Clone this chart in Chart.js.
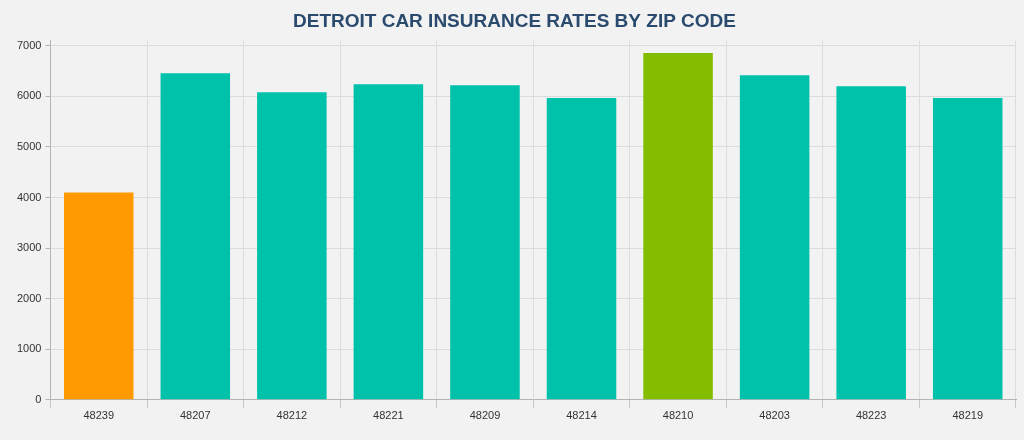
<!DOCTYPE html>
<html>
<head>
<meta charset="utf-8">
<script src="https://cdn.jsdelivr.net/npm/chart.js@4/dist/chart.umd.min.js"></script>
<style>
  html, body { margin: 0; padding: 0; background: #f2f2f2; }
  #wrap { width: 1024px; height: 440px; }
</style>
</head>
<body>
<div id="wrap"><canvas id="chart"></canvas></div>
<script>
const zipCodes = ['48239', '48207', '48212', '48221', '48209', '48214', '48210', '48203', '48223', '48219'];
const rates = [4100, 6460, 6080, 6240, 6220, 5970, 6860, 6420, 6200, 5970];
const barColors = ['#ff9900', '#00c2ab', '#00c2ab', '#00c2ab', '#00c2ab', '#00c2ab', '#84bd00', '#00c2ab', '#00c2ab', '#00c2ab'];
const yTicks = [0, 1000, 2000, 3000, 4000, 5000, 6000, 7000];

const ctx = document.getElementById('chart').getContext('2d');
new Chart(ctx, {
    type: 'bar',
    data: {
        labels: zipCodes,
        datasets: [{
            data: rates,
            backgroundColor: barColors,
            borderWidth: 0
        }]
    },
    options: {
        responsive: true,
        maintainAspectRatio: false,
        animation: false,
        layout: { padding: { top: 8, right: 8, bottom: 15, left: 13 } },
        plugins: {
            legend: { display: false },
            tooltip: { enabled: false },
            title: {
                display: true,
                text: 'DETROIT CAR INSURANCE RATES BY ZIP CODE',
                color: '#2a4a6e',
                font: { family: 'Liberation Sans, Arial, sans-serif', size: 19, weight: 'bold' },
                padding: { top: 2, bottom: 8 }
            }
        },
        scales: {
            x: {
                grid: { color: '#dcdcdc', tickLength: 8, tickColor: '#c8c8c8' },
                border: { color: '#b4b4b4' },
                ticks: { color: '#333', font: { family: 'Liberation Sans, Arial, sans-serif', size: 11 }, padding: 2 }
            },
            y: {
                min: 0,
                max: 7100,
                afterBuildTicks: axis => {
                    axis.ticks = yTicks.map(v => ({ value: v }));
                },
                grid: { color: '#dcdcdc', tickLength: 5, tickColor: '#b4b4b4' },
                border: { color: '#b4b4b4' },
                ticks: {
                    color: '#333',
                    font: { family: 'Liberation Sans, Arial, sans-serif', size: 11 },
                    padding: 4,
                    callback: value => String(value)
                }
            }
        }
    }
});
</script>
</body>
</html>
